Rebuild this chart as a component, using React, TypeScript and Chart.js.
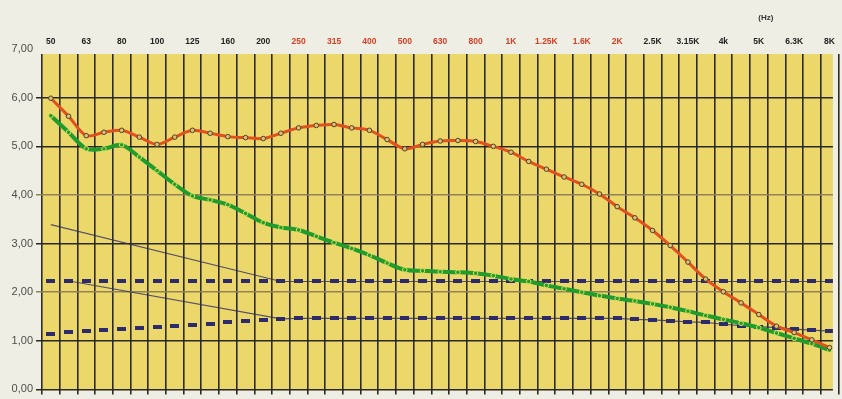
import React, { useEffect, useRef } from "react";
import { Chart, registerables } from "chart.js";

Chart.register(...registerables);

// 1/3-octave band labels (shown on every other 1/6-octave cell)
const bandLabels = ["50", "63", "80", "100", "125", "160", "200", "250", "315", "400", "500", "630", "800", "1K", "1.25K", "1.6K", "2K", "2.5K", "3.15K", "4k", "5K", "6.3K", "8K"];
const redBandLabels = ["250", "315", "400", "500", "630", "800", "1K", "1.25K", "1.6K", "2K"];
const unitLabel = "(Hz)";

const yTickValues = [0, 1, 2, 3, 4, 5, 6, 7];

// values per 1/6-octave cell (45 cells, 50 Hz ... 8 kHz)
const redSeries = [
  5.99, 5.62, 5.22, 5.29, 5.33, 5.19, 5.04, 5.19, 5.33, 5.27,
  5.2, 5.18, 5.16, 5.27, 5.38, 5.43, 5.45, 5.38, 5.33, 5.14,
  4.95, 5.04, 5.11, 5.12, 5.1, 5.0, 4.88, 4.69, 4.53, 4.37,
  4.22, 4.02, 3.76, 3.53, 3.27, 2.96, 2.62, 2.27, 2.01, 1.78,
  1.54, 1.3, 1.17, 1.02, 0.86,
];
const greenSeries = [
  5.63, 5.29, 4.95, 4.95, 5.03, 4.78, 4.5, 4.22, 3.98, 3.9,
  3.8, 3.62, 3.43, 3.33, 3.28, 3.15, 3.02, 2.9, 2.76, 2.6,
  2.46, 2.44, 2.42, 2.41, 2.39, 2.34, 2.27, 2.22, 2.14, 2.07,
  2.0, 1.93, 1.87, 1.82, 1.76, 1.69, 1.61, 1.52, 1.44, 1.36,
  1.27, 1.16, 1.05, 0.94, 0.81,
];
const upperDashed = [
  2.22, 2.22, 2.22, 2.22, 2.22, 2.22, 2.22, 2.22, 2.22, 2.22,
  2.22, 2.22, 2.22, 2.22, 2.22, 2.22, 2.22, 2.22, 2.22, 2.22,
  2.22, 2.22, 2.22, 2.22, 2.22, 2.22, 2.22, 2.22, 2.22, 2.22,
  2.22, 2.22, 2.22, 2.22, 2.22, 2.22, 2.22, 2.22, 2.22, 2.22,
  2.22, 2.22, 2.22, 2.22, 2.22,
];
const lowerDashed = [
  1.13, 1.18, 1.2, 1.22, 1.24, 1.27, 1.29, 1.3, 1.32, 1.35,
  1.38, 1.4, 1.42, 1.45, 1.46, 1.46, 1.46, 1.46, 1.46, 1.46,
  1.46, 1.46, 1.46, 1.46, 1.46, 1.46, 1.46, 1.46, 1.46, 1.46,
  1.46, 1.46, 1.46, 1.44, 1.43, 1.41, 1.39, 1.38, 1.34, 1.31,
  1.29, 1.27, 1.24, 1.22, 1.2,
];
// thin guide lines: start point of each diagonal, then they join the dashed lines
const diagonalStartCells = [0, 1.2];
const diagonalStartValues = [3.39, 2.22];
const mergeCell = 13;

const X_MIN = -0.5;
const X_MAX = 44.19;

function makeDash(): HTMLCanvasElement {
  const c = document.createElement("canvas");
  c.width = 9;
  c.height = 4;
  const g = c.getContext("2d")!;
  g.fillStyle = "#2d2b6b";
  g.fillRect(0, 0, 9, 4);
  return c;
}

const toPoints = (arr: number[], from = 0) =>
  arr.slice(from).map((v, i) => ({ x: i + from, y: v }));

const gridColorFor = (v: number) => {
  if (v === 7) return "rgba(0,0,0,0)";
  if (v === 2 || v === 4) return "#8f8258";
  return "#2a281e";
};

export default function App() {
  const ref = useRef<HTMLCanvasElement | null>(null);

  useEffect(() => {
    if (!ref.current) return;
    const dash = makeDash();

    const bgPlugin = {
      id: "bgPlugin",
      beforeDraw(chart: any) {
        const { ctx, chartArea: a, width, height } = chart;
        ctx.save();
        ctx.fillStyle = "#efeee4";
        ctx.fillRect(0, 0, width, height);
        ctx.fillStyle = "#ecd86a";
        ctx.fillRect(a.left, a.top, a.right - a.left, a.bottom - a.top);
        ctx.restore();
      },
      afterDraw(chart: any) {
        const { ctx } = chart;
        const xs = chart.scales.x;
        ctx.save();
        ctx.font = "bold 8px 'Liberation Sans', Arial, sans-serif";
        ctx.fillStyle = "#333";
        ctx.textAlign = "center";
        ctx.textBaseline = "middle";
        ctx.fillText(unitLabel, xs.getPixelForValue(40.4), 18);
        ctx.restore();
      },
    };

    const chart = new Chart(ref.current, {
      type: "line",
      data: {
        datasets: [
          {
            label: "red",
            data: toPoints(redSeries),
            borderColor: "#e2501e",
            borderWidth: 3,
            tension: 0.3,
            pointRadius: 2.3,
            pointBorderWidth: 1,
            pointBorderColor: "#4f4226",
            pointBackgroundColor: "rgba(222,196,120,0.95)",
            order: 0,
          },
          {
            label: "green",
            data: toPoints(greenSeries),
            borderColor: "#1f9c2c",
            borderWidth: 4,
            tension: 0.3,
            pointRadius: 2.3,
            pointBorderWidth: 1,
            pointBorderColor: "#d6e65a",
            pointBackgroundColor: "#2a9a30",
            order: 1,
          },
          {
            label: "upperDashed",
            data: toPoints(upperDashed),
            showLine: false,
            pointStyle: dash,
            pointRadius: 4,
            order: 2,
          },
          {
            label: "lowerDashed",
            data: toPoints(lowerDashed),
            showLine: false,
            pointStyle: dash,
            pointRadius: 4,
            order: 2,
          },
          {
            label: "thinUpper",
            data: [
              { x: diagonalStartCells[0], y: diagonalStartValues[0] },
              ...toPoints(upperDashed, mergeCell),
            ],
            borderColor: "rgba(48,46,105,0.8)",
            borderWidth: 1.2,
            pointRadius: 0,
            tension: 0,
            order: 3,
          },
          {
            label: "thinLower",
            data: [
              { x: diagonalStartCells[1], y: diagonalStartValues[1] },
              ...toPoints(lowerDashed, mergeCell),
            ],
            borderColor: "rgba(48,46,105,0.8)",
            borderWidth: 1.2,
            pointRadius: 0,
            tension: 0,
            order: 3,
          },
        ],
      },
      options: {
        animation: false,
        responsive: false,
        devicePixelRatio: 1,
        events: [],
        layout: { padding: 0 },
        plugins: { legend: { display: false }, tooltip: { enabled: false } },
        scales: {
          x: {
            type: "linear",
            position: "top",
            min: X_MIN,
            max: X_MAX,
            afterBuildTicks: (s: any) => {
              s.ticks = bandLabels.map((_, i) => ({ value: i * 2 }));
            },
            afterFit: (s: any) => {
              s.height = 54;
            },
            ticks: {
              autoSkip: false,
              maxRotation: 0,
              minRotation: 0,
              padding: 7,
              font: { family: "'Liberation Sans', Arial, sans-serif", size: 8.5, weight: "bold" },
              color: (ctx: any) =>
                redBandLabels.includes(bandLabels[ctx.index]) ? "#d63e26" : "#222222",
              callback: (_v: any, i: number) => bandLabels[i],
            },
            grid: { display: false, drawTicks: false },
            border: { display: false },
          },
          xg: {
            type: "linear",
            position: "bottom",
            min: X_MIN,
            max: X_MAX,
            afterBuildTicks: (s: any) => {
              s.ticks = redSeries.concat([0]).map((_, i) => ({ value: i - 0.5 }));
            },
            afterFit: (s: any) => {
              s.height = 7;
            },
            ticks: { display: false },
            grid: { color: "#2e2c22", lineWidth: 1.6, drawTicks: true, tickLength: 5 },
            border: { display: false },
          },
          y: {
            type: "linear",
            min: 0,
            max: 6.9,
            afterBuildTicks: (s: any) => {
              s.ticks = yTickValues.map((v) => ({ value: v }));
            },
            afterFit: (s: any) => {
              s.width = 42;
            },
            ticks: {
              padding: 3,
              font: { family: "'Liberation Sans', Arial, sans-serif", size: 11 },
              color: "#4d4d4d",
              callback: (v: any) => Number(v).toFixed(2).replace(".", ","),
            },
            grid: {
              color: (ctx: any) => gridColorFor(ctx.tick ? ctx.tick.value : 0),
              lineWidth: 1.5,
              tickLength: 6,
            },
            border: { display: false },
          },
        },
      },
      plugins: [bgPlugin],
    } as any);

    return () => chart.destroy();
  }, []);

  return (
    <div style={{ position: "fixed", left: 0, top: 0, width: 842, height: 399 }}>
      <canvas ref={ref} width={842} height={399} style={{ width: 842, height: 399, display: "block" }} />
    </div>
  );
}
